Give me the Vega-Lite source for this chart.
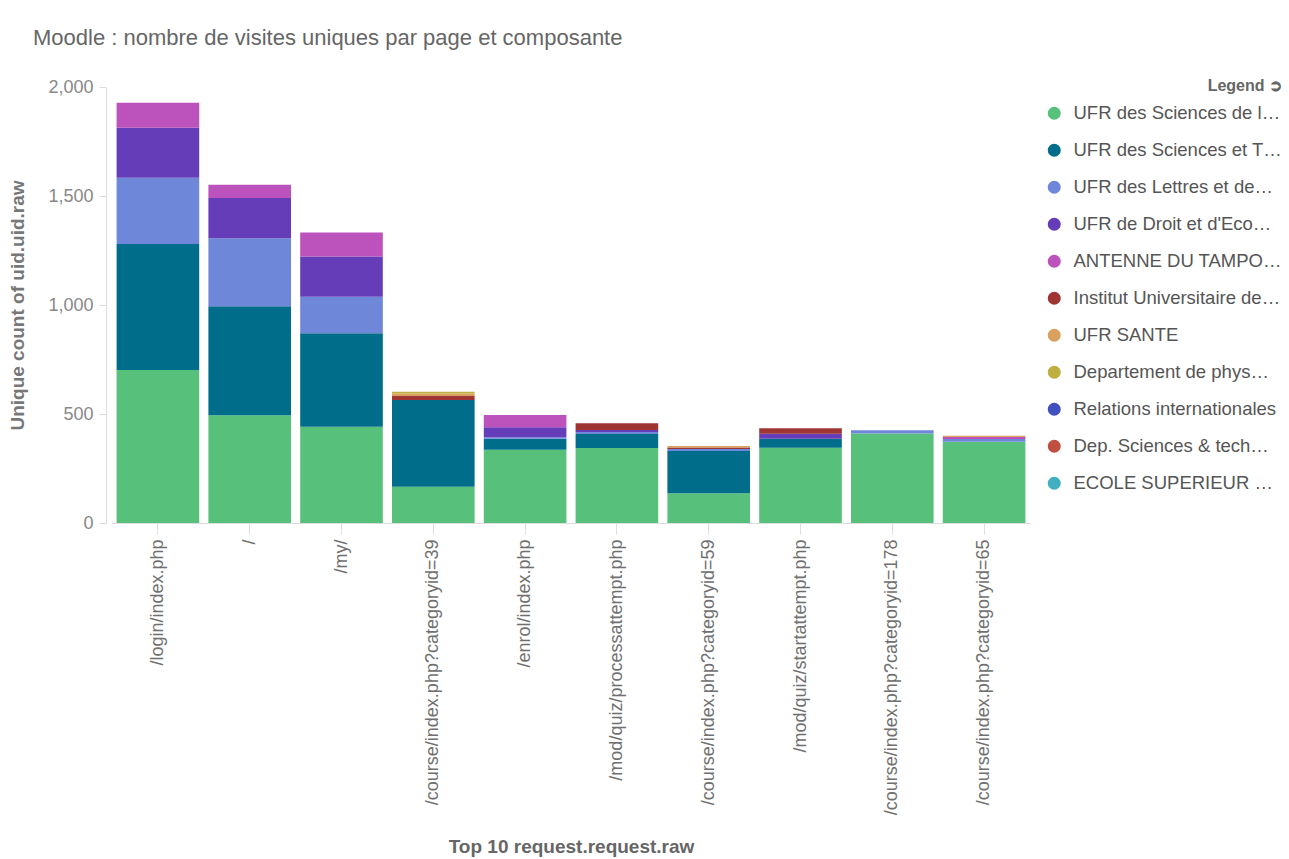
{
  "$schema": "https://vega.github.io/schema/vega-lite/v6.json",
  "autosize": "none",
  "width": 918,
  "height": 436,
  "padding": {"left": 112, "top": 87, "right": 259, "bottom": 336},
  "background": "white",
  "title": {
    "text": "Moodle : nombre de visites uniques par page et composante",
    "anchor": "start",
    "frame": "group",
    "dx": -79,
    "offset": 28,
    "font": "Liberation Sans",
    "fontSize": 22,
    "fontWeight": "normal",
    "color": "#666666"
  },
  "datasets": {
    "composantes": [
      {"composante": "UFR des Sciences de l…", "rank": 1},
      {"composante": "UFR des Sciences et T…", "rank": 2},
      {"composante": "UFR des Lettres et de…", "rank": 3},
      {"composante": "UFR de Droit et d'Eco…", "rank": 4},
      {"composante": "ANTENNE DU TAMPO…", "rank": 5},
      {"composante": "Institut Universitaire de…", "rank": 6},
      {"composante": "UFR SANTE", "rank": 7},
      {"composante": "Departement de phys…", "rank": 8},
      {"composante": "Relations internationales", "rank": 9},
      {"composante": "Dep. Sciences & tech…", "rank": 10},
      {"composante": "ECOLE SUPERIEUR P…", "rank": 11}
    ],
    "visites": [
      {"page": "/login/index.php", "composante": "UFR des Sciences de l…", "count": 702},
      {"page": "/login/index.php", "composante": "UFR des Sciences et T…", "count": 578},
      {"page": "/login/index.php", "composante": "UFR des Lettres et de…", "count": 304},
      {"page": "/login/index.php", "composante": "UFR de Droit et d'Eco…", "count": 229},
      {"page": "/login/index.php", "composante": "ANTENNE DU TAMPO…", "count": 115},
      {"page": "/", "composante": "UFR des Sciences de l…", "count": 494},
      {"page": "/", "composante": "UFR des Sciences et T…", "count": 500},
      {"page": "/", "composante": "UFR des Lettres et de…", "count": 312},
      {"page": "/", "composante": "UFR de Droit et d'Eco…", "count": 185},
      {"page": "/", "composante": "ANTENNE DU TAMPO…", "count": 61},
      {"page": "/my/", "composante": "UFR des Sciences de l…", "count": 442},
      {"page": "/my/", "composante": "UFR des Sciences et T…", "count": 428},
      {"page": "/my/", "composante": "UFR des Lettres et de…", "count": 168},
      {"page": "/my/", "composante": "UFR de Droit et d'Eco…", "count": 185},
      {"page": "/my/", "composante": "ANTENNE DU TAMPO…", "count": 109},
      {"page": "/course/index.php?categoryid=39", "composante": "UFR des Sciences de l…", "count": 166},
      {"page": "/course/index.php?categoryid=39", "composante": "UFR des Sciences et T…", "count": 398},
      {"page": "/course/index.php?categoryid=39", "composante": "Institut Universitaire de…", "count": 18},
      {"page": "/course/index.php?categoryid=39", "composante": "UFR SANTE", "count": 12},
      {"page": "/course/index.php?categoryid=39", "composante": "Departement de phys…", "count": 8},
      {"page": "/enrol/index.php", "composante": "UFR des Sciences de l…", "count": 336},
      {"page": "/enrol/index.php", "composante": "UFR des Sciences et T…", "count": 51},
      {"page": "/enrol/index.php", "composante": "UFR des Lettres et de…", "count": 6},
      {"page": "/enrol/index.php", "composante": "UFR de Droit et d'Eco…", "count": 46},
      {"page": "/enrol/index.php", "composante": "ANTENNE DU TAMPO…", "count": 56},
      {"page": "/mod/quiz/processattempt.php", "composante": "UFR des Sciences de l…", "count": 344},
      {"page": "/mod/quiz/processattempt.php", "composante": "UFR des Sciences et T…", "count": 64},
      {"page": "/mod/quiz/processattempt.php", "composante": "UFR des Lettres et de…", "count": 9},
      {"page": "/mod/quiz/processattempt.php", "composante": "UFR de Droit et d'Eco…", "count": 10},
      {"page": "/mod/quiz/processattempt.php", "composante": "Institut Universitaire de…", "count": 31},
      {"page": "/course/index.php?categoryid=59", "composante": "UFR des Sciences de l…", "count": 136},
      {"page": "/course/index.php?categoryid=59", "composante": "UFR des Sciences et T…", "count": 194},
      {"page": "/course/index.php?categoryid=59", "composante": "UFR des Lettres et de…", "count": 10},
      {"page": "/course/index.php?categoryid=59", "composante": "Institut Universitaire de…", "count": 6},
      {"page": "/course/index.php?categoryid=59", "composante": "UFR SANTE", "count": 7},
      {"page": "/mod/quiz/startattempt.php", "composante": "UFR des Sciences de l…", "count": 345},
      {"page": "/mod/quiz/startattempt.php", "composante": "UFR des Sciences et T…", "count": 42},
      {"page": "/mod/quiz/startattempt.php", "composante": "UFR de Droit et d'Eco…", "count": 22},
      {"page": "/mod/quiz/startattempt.php", "composante": "Institut Universitaire de…", "count": 26},
      {"page": "/course/index.php?categoryid=178", "composante": "UFR des Sciences de l…", "count": 410},
      {"page": "/course/index.php?categoryid=178", "composante": "UFR des Lettres et de…", "count": 16},
      {"page": "/course/index.php?categoryid=65", "composante": "UFR des Sciences de l…", "count": 373},
      {"page": "/course/index.php?categoryid=65", "composante": "UFR des Lettres et de…", "count": 12},
      {"page": "/course/index.php?categoryid=65", "composante": "ANTENNE DU TAMPO…", "count": 10},
      {"page": "/course/index.php?categoryid=65", "composante": "UFR SANTE", "count": 5}
    ]
  },
  "data": {"name": "visites"},
  "transform": [
    {"lookup": "composante", "from": {"data": {"name": "composantes"}, "key": "composante", "fields": ["rank"]}}
  ],
  "mark": {"type": "bar"},
  "encoding": {
    "x": {
      "field": "page",
      "type": "nominal",
      "sort": null,
      "scale": {"paddingInner": 0.1, "paddingOuter": 0.05},
      "axis": {
        "title": "Top 10 request.request.raw",
        "labelAngle": -90,
        "labelAlign": "right",
        "labelBaseline": "middle",
        "labelFont": "Liberation Sans",
        "labelFontSize": 18,
        "labelColor": "#707070",
        "labelPadding": 5,
        "labelLimit": 400,
        "tickSize": 11,
        "tickColor": "#dddddd",
        "domainColor": "#dddddd",
        "titleFont": "Liberation Sans",
        "titleFontSize": 19,
        "titleFontWeight": "bold",
        "titleColor": "#666666",
        "titlePadding": 114
      }
    },
    "y": {
      "field": "count",
      "type": "quantitative",
      "stack": "zero",
      "scale": {"domain": [0, 2000]},
      "axis": {
        "title": "Unique count of uid.uid.raw",
        "values": [0, 500, 1000, 1500, 2000],
        "format": ",d",
        "grid": false,
        "offset": 6,
        "tickSize": 7,
        "tickColor": "#dddddd",
        "domainColor": "#dddddd",
        "labelFont": "Liberation Sans",
        "labelFontSize": 18,
        "labelColor": "#888888",
        "labelPadding": 6,
        "titleFont": "Liberation Sans",
        "titleFontSize": 19,
        "titleFontWeight": "bold",
        "titleColor": "#777777",
        "titlePadding": 20
      }
    },
    "order": {"field": "rank", "type": "quantitative", "sort": "ascending"},
    "color": {
      "field": "composante",
      "type": "nominal",
      "scale": {
        "domain": [
          "UFR des Sciences de l…",
          "UFR des Sciences et T…",
          "UFR des Lettres et de…",
          "UFR de Droit et d'Eco…",
          "ANTENNE DU TAMPO…",
          "Institut Universitaire de…",
          "UFR SANTE",
          "Departement de phys…",
          "Relations internationales",
          "Dep. Sciences & tech…",
          "ECOLE SUPERIEUR P…"
        ],
        "range": ["#57c17b", "#006e8a", "#6f87d8", "#663db8", "#bc52bc", "#9e3533", "#daa05d", "#bfaf40", "#4050bf", "#bf5040", "#40afbf"]
      },
      "legend": {
        "title": "Legend ➲",
        "orient": "none",
        "legendX": 933,
        "legendY": -9,
        "symbolType": "circle",
        "symbolSize": 170,
        "symbolStrokeWidth": 0,
        "labelFont": "Liberation Sans",
        "labelFontSize": 18.5,
        "labelColor": "#555555",
        "labelLimit": 211,
        "labelOffset": 10,
        "rowPadding": 18,
        "titleFont": "Liberation Sans",
        "titleFontSize": 16,
        "titleFontWeight": "bold",
        "titleColor": "#666666",
        "titleAnchor": "end",
        "titlePadding": 10
      }
    }
  },
  "config": {
    "view": {"stroke": null}
  }
}
